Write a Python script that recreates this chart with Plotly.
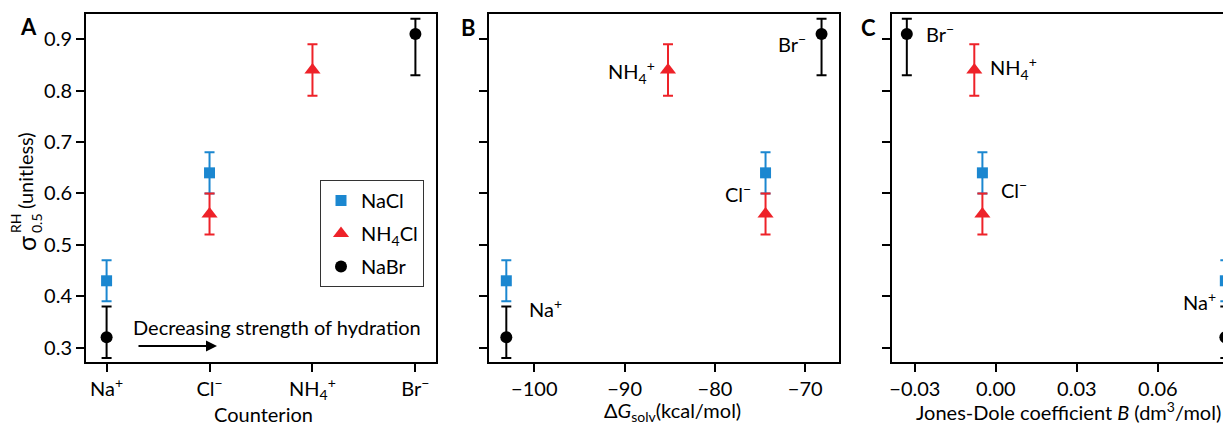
import plotly.graph_objects as go

# ---------------- data ----------------
ion_labels = ["Na<sup>+</sup>", "Cl<sup>−</sup>", "NH<sub>4</sub><sup>+</sup>", "Br<sup>−</sup>"]
ion_keys = ["Na+", "Cl-", "NH4+", "Br-"]

dG_solv = {"Na+": -103.1, "Cl-": -74.4, "NH4+": -85.2, "Br-": -68.2}      # kcal/mol
jones_dole_B = {"Na+": 0.085, "Cl-": -0.005, "NH4+": -0.008, "Br-": -0.033}  # dm3/mol

nacl_ions = ["Na+", "Cl-"]
nacl_sigma = [0.43, 0.64]
nacl_err_plus = [0.04, 0.04]
nacl_err_minus = [0.04, 0.04]

nh4cl_ions = ["Cl-", "NH4+"]
nh4cl_sigma = [0.56, 0.84]
nh4cl_err_plus = [0.04, 0.05]
nh4cl_err_minus = [0.04, 0.05]

nabr_ions = ["Na+", "Br-"]
nabr_sigma = [0.32, 0.91]
nabr_err_plus = [0.06, 0.03]
nabr_err_minus = [0.04, 0.08]

yticks = [0.3, 0.4, 0.5, 0.6, 0.7, 0.8, 0.9]
b_ticks = [-100, -90, -80, -70]
c_ticks = [-0.03, 0.00, 0.03, 0.06]

# ---------------- styling ----------------
OFF = 8                      # page body margin
W, H = 1231 - OFF, 427 - OFF
FONT = "Lato"
FS = 20
BLUE = "#1b87d0"
RED = "#ee2229"
BLACK = "#000000"

def px(x):
    return (x - OFF) / W

def py(y):
    return 1 - (y - OFF) / H

series = [
    dict(name="NaCl", ions=nacl_ions, y=nacl_sigma, ep=nacl_err_plus, em=nacl_err_minus,
         color=BLUE, symbol="square", size=11),
    dict(name="NH<sub>4</sub>Cl", ions=nh4cl_ions, y=nh4cl_sigma, ep=nh4cl_err_plus, em=nh4cl_err_minus,
         color=RED, symbol="triangle-up", size=14),
    dict(name="NaBr", ions=nabr_ions, y=nabr_sigma, ep=nabr_err_plus, em=nabr_err_minus,
         color=BLACK, symbol="circle", size=12),
]

fig = go.Figure()

for k, s in enumerate(series):
    xs_panels = [
        ([ion_keys.index(i) for i in s["ions"]], "x", "y", True),
        ([dG_solv[i] for i in s["ions"]], "x2", "y2", False),
        ([jones_dole_B[i] for i in s["ions"]], "x3", "y3", False),
    ]
    for xs, xa, ya, show in xs_panels:
        fig.add_trace(go.Scatter(
            x=xs, y=s["y"], xaxis=xa, yaxis=ya, mode="markers",
            name=s["name"], showlegend=show, legendgroup=s["name"],
            marker=dict(color=s["color"], symbol=s["symbol"], size=s["size"], line=dict(width=0)),
            error_y=dict(type="data", symmetric=False, array=s["ep"], arrayminus=s["em"],
                         color=s["color"], thickness=2, width=5),
            cliponaxis=False,
        ))

ydom = [py(362), py(14)]
common_axis = dict(showline=True, linecolor="black", linewidth=2, ticks="outside",
                   ticklen=8, tickwidth=2, tickcolor="black", showgrid=False, zeroline=False,
                   automargin=False, tickfont=dict(family=FONT, size=FS, color="black"))

fig.update_layout(
    width=W, height=H,
    margin=dict(l=0, r=0, t=0, b=0),
    paper_bgcolor="white", plot_bgcolor="white",
    font=dict(family=FONT, size=FS, color="black"),
    showlegend=True,
    legend=dict(x=px(320), y=py(180), xanchor="left", yanchor="top",
                bgcolor="white", bordercolor="#333333", borderwidth=1,
                font=dict(family=FONT, size=FS, color="black"),
                tracegroupgap=4, traceorder="grouped"),
    xaxis=dict(domain=[px(86), px(436)], range=[-0.2, 3.2], mirror=True,
               tickvals=list(range(len(ion_labels))), ticktext=ion_labels, **common_axis),
    yaxis=dict(domain=ydom, range=[0.272, 0.949], mirror=True,
               tickvals=yticks, ticktext=[f"{v:.1f}" for v in yticks], **common_axis),
    xaxis2=dict(domain=[px(488.7), px(838.7)], range=[-105.05, -66.3], anchor="y2", mirror=True,
                tickvals=b_ticks, ticktext=[str(v).replace("-", "−") for v in b_ticks], **common_axis),
    yaxis2=dict(domain=ydom, range=[0.272, 0.949], anchor="x2", mirror=True,
                tickvals=yticks, showticklabels=False, **common_axis),
    xaxis3=dict(domain=[px(891.7), 1.0], range=[-0.0386, 0.0871], anchor="y3", mirror=True,
                tickvals=c_ticks, ticktext=[f"{v:.2f}".replace("-", "−") for v in c_ticks], **common_axis),
    yaxis3=dict(domain=ydom, range=[0.272, 0.949], anchor="x3", mirror=False,
                tickvals=yticks, showticklabels=False, **common_axis),
)

ann = []

def text(t, x, y, xanchor="center", size=FS, bold=False, angle=0):
    ann.append(dict(text=t, x=px(x), y=py(y), xref="paper", yref="paper", showarrow=False,
                    xanchor=xanchor, yanchor="middle", textangle=angle,
                    font=dict(family=FONT, size=size, color="black",
                              weight="bold" if bold else "normal")))

# panel letters
text("A", 29, 26, size=22, bold=True)
text("B", 468, 28, size=22, bold=True)
text("C", 869, 28, size=22, bold=True)

# axis titles
text("Counterion", 263, 414)
text("Δ<i>G</i><sub>solv</sub>(kcal/mol)", 672, 411)
text("Jones-Dole coefficient <i>B</i> (dm<sup>3</sup>/mol)", 1068, 411)

# y-axis title (stacked super/subscript)
text("σ", 26, 244, size=25, angle=-90)
text("RH", 15, 224, size=14, angle=-90)
text("0.5", 36, 223, size=14, angle=-90)
text("(unitless)", 25, 171, angle=-90)

# panel A note + arrow
text("Decreasing strength of hydration", 131, 327, xanchor="left")
ann.append(dict(x=px(217), y=py(346), xref="paper", yref="paper", ax=-80, ay=0,
                axref="pixel", ayref="pixel", text="", showarrow=True,
                arrowhead=2, arrowsize=1.1, arrowwidth=2, arrowcolor="black"))

# panel B labels
text("NH<sub>4</sub><sup>+</sup>", 657, 72, xanchor="right")
text("Br<sup>−</sup>", 808, 43, xanchor="right")
text("Cl<sup>−</sup>", 753, 193, xanchor="right")
text("Na<sup>+</sup>", 527, 308, xanchor="left")

# panel C labels
text("Br<sup>−</sup>", 924, 33, xanchor="left")
text("NH<sub>4</sub><sup>+</sup>", 988, 68, xanchor="left")
text("Cl<sup>−</sup>", 999, 189, xanchor="left")
text("Na<sup>+</sup>", 1218, 301, xanchor="right")

fig.update_layout(annotations=ann)

fig.write_html("out.html")
